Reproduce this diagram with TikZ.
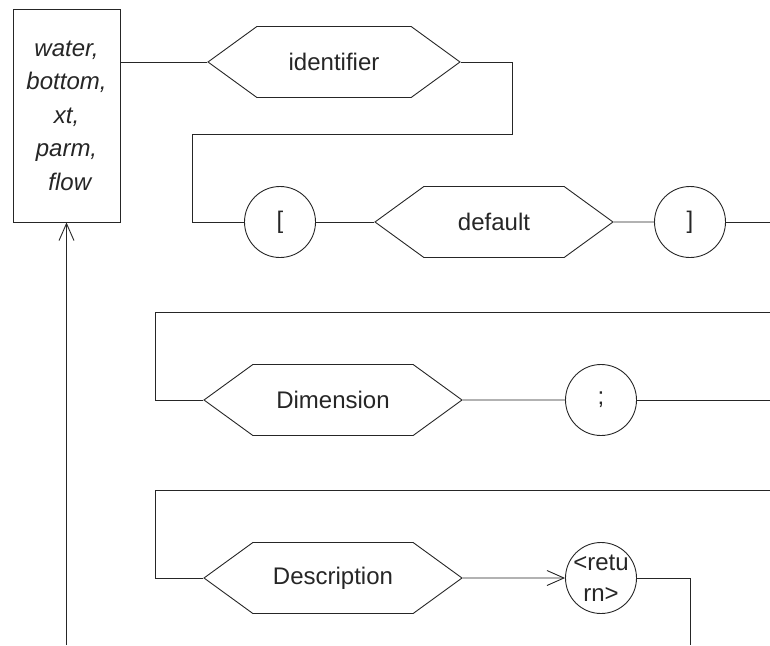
\documentclass[tikz,border=0pt]{standalone}
\usepackage{fontspec}
\setmainfont{Liberation Sans}
\usetikzlibrary{arrows.meta,positioning,shapes.symbols}
\tikzset{%
	keybox/.style   = {draw, rectangle, minimum width=107pt, minimum height=213pt, align=center, font=\fontsize{24}{33.5}\selectfont\itshape}, % Keywords
	nonterm/.style  = {draw, signal, signal to=east and west, signal pointer angle=72, minimum height=71pt, font=\fontsize{24}{28}\selectfont}, % Hexagon
	term/.style     = {draw, circle, minimum size=71pt, inner sep=0pt, align=center, font=\fontsize{24}{31}\selectfont}, % Literal
	waypoint/.style = {coordinate},
	barb/.style     = {-{Straight Barb[length=17pt,width=15pt]}},
}
\begin{document}
\begin{tikzpicture}[x=1pt,y=-1pt,line width=0.9pt,color=black!85]
	\useasboundingbox (0,0) rectangle (770,645);
	\node [keybox] (names) at (66.5,115.5) {water,\\ bottom,\\ xt,\\ parm,\\ \ flow};
	\node [nonterm, minimum width=252pt] (ident) at (334,62) {identifier};
	\node [term] (lbr) at (280,222) {[};
	\node [nonterm, minimum width=238pt] (deflt) [right of=lbr, node distance=214pt] {default};
	\node [term] (rbr) [right of=deflt, node distance=196pt] {]};
	\node [nonterm, minimum width=258pt] (dim) at (333,400) {Dimension};
	\node [term] (semi) [right of=dim, node distance=268pt] {;};
	\node [nonterm, minimum width=258pt] (desc) at (333,578) {Description};
	\node [term] (ret) [right of=desc, node distance=268pt] {\makebox[0pt]{<retu}\\\makebox[0pt]{rn>}};
	\node [waypoint] (w1) at (512,134) {};
	\node [waypoint] (w2) at (192,134) {};
	\node [waypoint] (w3) at (155,312) {};
	\node [waypoint] (w4) at (155,490) {};
	\node [waypoint] (e1) at (770,222) {};
	\node [waypoint] (e2) at (770,312) {};
	\node [waypoint] (e3) at (770,400) {};
	\node [waypoint] (e4) at (770,490) {};
	\node [waypoint] (e5) at (690,645) {};
	\node [waypoint] (e6) at (66.5,645) {};

	% first line of the entry
	\draw (ident.west) -- (ident.west -| names.east);
	\draw (ident.east) -| (w1) -- (w2) |- (lbr.west);
	\draw (lbr) -- (deflt);
	\draw (deflt) -- (rbr);
	\draw (rbr) -- (e1);
	% second line
	\draw (e2) -- (w3) |- (dim.west);
	\draw (dim) -- (semi);
	\draw (semi) -- (e3);
	% third line
	\draw (e4) -- (w4) |- (desc.west);
	\draw [barb] (desc) -- (ret);
	\draw (ret.east) -| (e5);
	\draw [barb] (e6) -- (names);
\end{tikzpicture}
\end{document}
